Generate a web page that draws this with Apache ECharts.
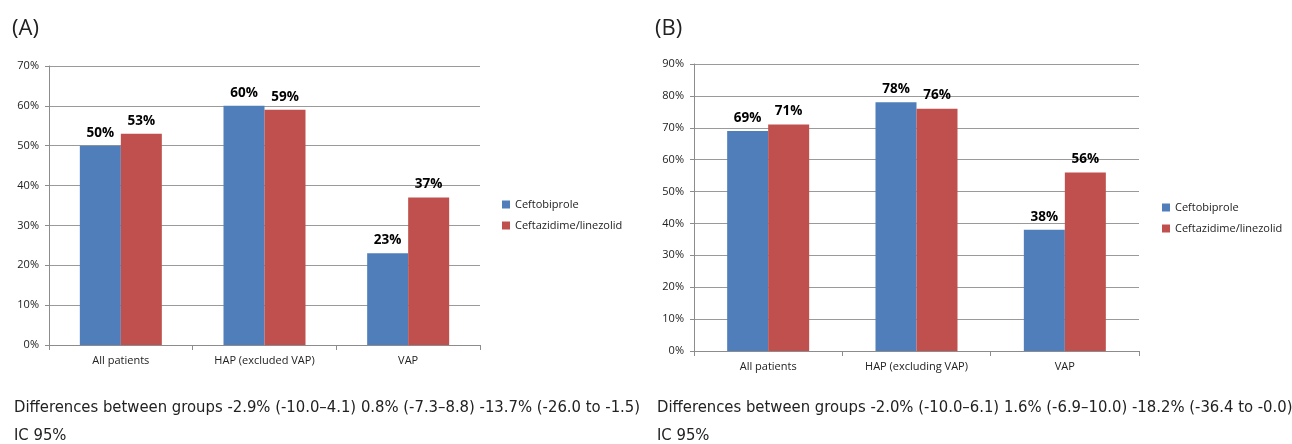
<!DOCTYPE html>
<html><head><meta charset="utf-8">
<script src="https://cdn.jsdelivr.net/npm/echarts@6/dist/echarts.min.js"></script>
<style>html,body{margin:0;padding:0;background:#fff}#c{width:1292px;height:444px}</style>
</head><body><div id="c"></div>
<script>
const categoriesA = ['All patients', 'HAP (excluded VAP)', 'VAP'];
const ceftobiproleA = [50, 60, 23];
const ceftazidimeA = [53, 59, 37];
const categoriesB = ['All patients', 'HAP (excluding VAP)', 'VAP'];
const ceftobiproleB = [69, 78, 38];
const ceftazidimeB = [71, 76, 56];
const seriesNames = ['Ceftobiprole', 'Ceftazidime/linezolid'];
const colors = ['#4F7EBB', '#C0504D'];
const textA = 'Differences between groups -2.9% (-10.0–4.1) 0.8% (-7.3–8.8) -13.7% (-26.0 to -1.5)';
const textB = 'Differences between groups -2.0% (-10.0–6.1) 1.6% (-6.9–10.0) -18.2% (-36.4 to -0.0)';

const chart = echarts.init(document.getElementById('c'));
const fontUI = 'Open Sans, Noto Sans, sans-serif';
const xAxisCommon = {
  type: 'category',
  axisLine: {lineStyle: {color: '#8c8c8c'}},
  axisTick: {show: true, length: 5, alignWithLabel: false, lineStyle: {color: '#8c8c8c'}},
  axisLabel: {color: '#222', fontSize: 11, fontFamily: fontUI, margin: 10}
};
const yAxisCommon = {
  type: 'value', min: 0, interval: 10,
  axisLine: {show: true, lineStyle: {color: '#8c8c8c'}},
  axisTick: {show: true, length: 4, lineStyle: {color: '#8c8c8c'}},
  splitLine: {lineStyle: {color: '#9a9a9a', width: 1}},
  axisLabel: {color: '#222', fontSize: 11, fontFamily: fontUI, formatter: '{value}%', margin: 10}
};
const labelCfg = {show: true, position: 'top', formatter: '{c}%', color: '#000', fontWeight: 'bold', fontSize: 13.5, fontFamily: fontUI, distance: 6};
function bar(name, data, xi, ci) {
  return {name: name, type: 'bar', xAxisIndex: xi, yAxisIndex: xi, data: data, barWidth: 41, barGap: '0%',
    itemStyle: {color: colors[ci]}, label: labelCfg};
}
const titleText = {fontFamily: 'Liberation Sans Narrow, DejaVu Sans Condensed, sans-serif', fontSize: 16.5, fontWeight: 'normal', color: '#222'};
chart.setOption({
  animation: false,
  title: [
    {text: '(A)', left: 7, top: 13, textStyle: {fontFamily: fontUI, fontSize: 22, fontWeight: 'normal', color: '#222'}},
    {text: '(B)', left: 650, top: 13, textStyle: {fontFamily: fontUI, fontSize: 22, fontWeight: 'normal', color: '#222'}},
    {text: textA + '\nIC 95%', left: 9, top: 389, textStyle: Object.assign({lineHeight: 28}, titleText)},
    {text: textB + '\nIC 95%', left: 652, top: 389, textStyle: Object.assign({lineHeight: 28}, titleText)}
  ],
  legend: [
    {orient: 'vertical', left: 497, top: 194, itemWidth: 8, itemHeight: 8, itemGap: 10, icon: 'rect',
     textStyle: {fontSize: 11, fontFamily: fontUI, color: '#222'}, data: seriesNames},
    {orient: 'vertical', left: 1157, top: 197, itemWidth: 8, itemHeight: 8, itemGap: 10, icon: 'rect',
     textStyle: {fontSize: 11, fontFamily: fontUI, color: '#222'}, data: seriesNames}
  ],
  grid: [
    {left: 49, top: 66, width: 431, height: 279},
    {left: 694, top: 64, width: 445, height: 287}
  ],
  xAxis: [
    Object.assign({gridIndex: 0, data: categoriesA}, xAxisCommon),
    Object.assign({gridIndex: 1, data: categoriesB}, xAxisCommon)
  ],
  yAxis: [
    Object.assign({gridIndex: 0, max: 70}, yAxisCommon),
    Object.assign({gridIndex: 1, max: 90}, yAxisCommon)
  ],
  series: [
    bar(seriesNames[0], ceftobiproleA, 0, 0),
    bar(seriesNames[1], ceftazidimeA, 0, 1),
    bar(seriesNames[0], ceftobiproleB, 1, 0),
    bar(seriesNames[1], ceftazidimeB, 1, 1)
  ]
});
</script></body></html>
